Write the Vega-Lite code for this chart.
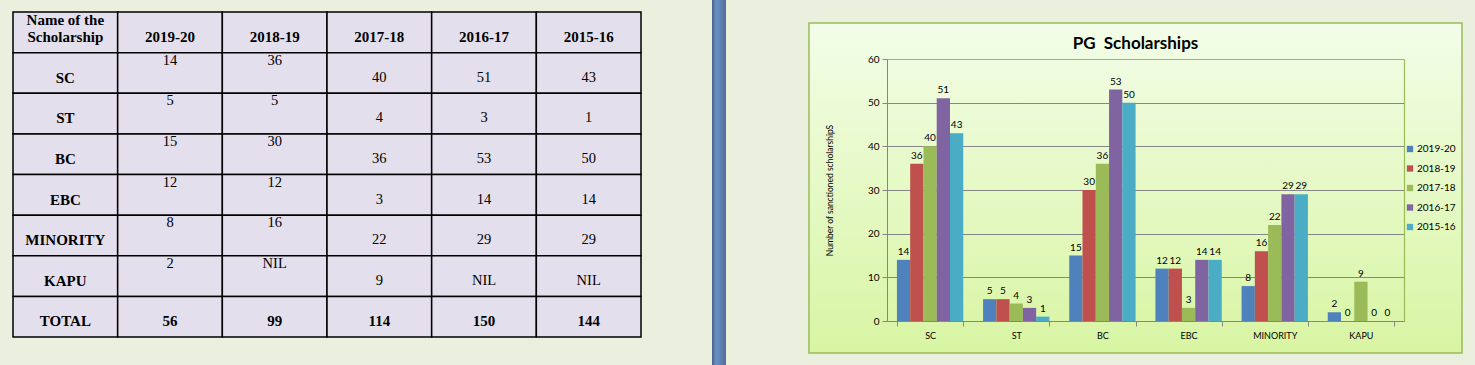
{
  "$schema": "https://vega.github.io/schema/vega-lite/v6.json",
  "background": "#eaf0dd",
  "padding": {"left": 0, "top": 0, "right": 14, "bottom": 0},
  "config": {"view": {"stroke": null}},
  "spacing": 82,
  "hconcat": [
    {
      "spacing": 0,
      "hconcat": [
        {
          "width": 712,
          "height": 365,
          "data": {"values": [
            {"row": "header", "col": "name", "text": "Name of the\nScholarship"},
            {"row": "header", "col": "2019-20", "text": "\n2019-20"},
            {"row": "header", "col": "2018-19", "text": "\n2018-19"},
            {"row": "header", "col": "2017-18", "text": "\n2017-18"},
            {"row": "header", "col": "2016-17", "text": "\n2016-17"},
            {"row": "header", "col": "2015-16", "text": "\n2015-16"},
            {"row": "SC", "col": "name", "text": "\nSC"},
            {"row": "SC", "col": "2019-20", "text": "14"},
            {"row": "SC", "col": "2018-19", "text": "36"},
            {"row": "SC", "col": "2017-18", "text": "\n40"},
            {"row": "SC", "col": "2016-17", "text": "\n51"},
            {"row": "SC", "col": "2015-16", "text": "\n43"},
            {"row": "ST", "col": "name", "text": "\nST"},
            {"row": "ST", "col": "2019-20", "text": "5"},
            {"row": "ST", "col": "2018-19", "text": "5"},
            {"row": "ST", "col": "2017-18", "text": "\n4"},
            {"row": "ST", "col": "2016-17", "text": "\n3"},
            {"row": "ST", "col": "2015-16", "text": "\n1"},
            {"row": "BC", "col": "name", "text": "\nBC"},
            {"row": "BC", "col": "2019-20", "text": "15"},
            {"row": "BC", "col": "2018-19", "text": "30"},
            {"row": "BC", "col": "2017-18", "text": "\n36"},
            {"row": "BC", "col": "2016-17", "text": "\n53"},
            {"row": "BC", "col": "2015-16", "text": "\n50"},
            {"row": "EBC", "col": "name", "text": "\nEBC"},
            {"row": "EBC", "col": "2019-20", "text": "12"},
            {"row": "EBC", "col": "2018-19", "text": "12"},
            {"row": "EBC", "col": "2017-18", "text": "\n3"},
            {"row": "EBC", "col": "2016-17", "text": "\n14"},
            {"row": "EBC", "col": "2015-16", "text": "\n14"},
            {"row": "MINORITY", "col": "name", "text": "\nMINORITY"},
            {"row": "MINORITY", "col": "2019-20", "text": "8"},
            {"row": "MINORITY", "col": "2018-19", "text": "16"},
            {"row": "MINORITY", "col": "2017-18", "text": "\n22"},
            {"row": "MINORITY", "col": "2016-17", "text": "\n29"},
            {"row": "MINORITY", "col": "2015-16", "text": "\n29"},
            {"row": "KAPU", "col": "name", "text": "\nKAPU"},
            {"row": "KAPU", "col": "2019-20", "text": "2"},
            {"row": "KAPU", "col": "2018-19", "text": "NIL"},
            {"row": "KAPU", "col": "2017-18", "text": "\n9"},
            {"row": "KAPU", "col": "2016-17", "text": "\nNIL"},
            {"row": "KAPU", "col": "2015-16", "text": "\nNIL"},
            {"row": "TOTAL", "col": "name", "text": "\nTOTAL"},
            {"row": "TOTAL", "col": "2019-20", "text": "\n56"},
            {"row": "TOTAL", "col": "2018-19", "text": "\n99"},
            {"row": "TOTAL", "col": "2017-18", "text": "\n114"},
            {"row": "TOTAL", "col": "2016-17", "text": "\n150"},
            {"row": "TOTAL", "col": "2015-16", "text": "\n144"}
          ]},
          "encoding": {
            "x": {"field": "col", "type": "nominal", "axis": null,
                  "scale": {"domain": ["name", "2019-20", "2018-19", "2017-18", "2016-17", "2015-16"], "range": [13, 641], "paddingInner": 0, "paddingOuter": 0}},
            "y": {"field": "row", "type": "nominal", "axis": null,
                  "scale": {"domain": ["header", "SC", "ST", "BC", "EBC", "MINORITY", "KAPU", "TOTAL"], "range": [12, 337], "paddingInner": 0, "paddingOuter": 0}}
          },
          "layer": [
            {"mark": {"type": "rect", "fill": "#e4dfec", "stroke": "#000000", "strokeWidth": 1.5}},
            {
              "transform": [{"filter": "datum.row === 'header' || datum.col === 'name' || datum.row === 'TOTAL'"}],
              "mark": {"type": "text", "font": "Liberation Serif", "fontSize": 15, "fontWeight": "bold", "baseline": "top", "lineBreak": "\n", "lineHeight": 17, "dy": 1, "fill": "#000000"},
              "encoding": {
                "y": {"field": "row", "type": "nominal", "bandPosition": 0, "axis": null,
                      "scale": {"domain": ["header", "SC", "ST", "BC", "EBC", "MINORITY", "KAPU", "TOTAL"], "range": [12, 337], "paddingInner": 0, "paddingOuter": 0}},
                "text": {"field": "text", "type": "nominal"}
              }
            },
            {
              "transform": [{"filter": "!(datum.row === 'header' || datum.col === 'name' || datum.row === 'TOTAL')"}],
              "mark": {"type": "text", "font": "Liberation Serif", "fontSize": 14.5, "baseline": "top", "lineBreak": "\n", "lineHeight": 17, "dy": 1, "fill": "#000000"},
              "encoding": {
                "y": {"field": "row", "type": "nominal", "bandPosition": 0, "axis": null,
                      "scale": {"domain": ["header", "SC", "ST", "BC", "EBC", "MINORITY", "KAPU", "TOTAL"], "range": [12, 337], "paddingInner": 0, "paddingOuter": 0}},
                "text": {"field": "text", "type": "nominal"}
              }
            }
          ]
        },
        {
          "width": 14,
          "height": 365,
          "view": {"fill": {"gradient": "linear", "x1": 0, "y1": 0, "x2": 1, "y2": 0,
                   "stops": [{"offset": 0, "color": "#46628c"}, {"offset": 0.3, "color": "#6d91c3"}, {"offset": 1, "color": "#4e6e9e"}]}, "stroke": null},
          "data": {"values": []},
          "mark": {"type": "point"},
          "encoding": {}
        }
      ]
    },
    {
      "spacing": 0,
      "vconcat": [
        {
          "width": 1,
          "height": 22,
          "data": {"values": []},
          "mark": {"type": "point"},
          "encoding": {}
        },
        {
          "width": 653,
          "height": 330,
          "view": {"fill": {"gradient": "linear", "x1": 0, "y1": 0, "x2": 0, "y2": 1,
                   "stops": [{"offset": 0, "color": "#f3fde8"}, {"offset": 1, "color": "#d8f5a3"}]},
                   "stroke": "#9bbb59", "strokeWidth": 1.5},
          "title": {"text": "PG\u00a0 Scholarships", "frame": "group", "anchor": "middle", "offset": -43, "baseline": "alphabetic",
                    "font": "Lato", "fontSize": 17, "fontWeight": "bold", "color": "#000000"},
          "data": {"values": [
            {"cat": "SC", "year": "2019-20", "value": 14},
            {"cat": "SC", "year": "2018-19", "value": 36},
            {"cat": "SC", "year": "2017-18", "value": 40},
            {"cat": "SC", "year": "2016-17", "value": 51},
            {"cat": "SC", "year": "2015-16", "value": 43},
            {"cat": "ST", "year": "2019-20", "value": 5},
            {"cat": "ST", "year": "2018-19", "value": 5},
            {"cat": "ST", "year": "2017-18", "value": 4},
            {"cat": "ST", "year": "2016-17", "value": 3},
            {"cat": "ST", "year": "2015-16", "value": 1},
            {"cat": "BC", "year": "2019-20", "value": 15},
            {"cat": "BC", "year": "2018-19", "value": 30},
            {"cat": "BC", "year": "2017-18", "value": 36},
            {"cat": "BC", "year": "2016-17", "value": 53},
            {"cat": "BC", "year": "2015-16", "value": 50},
            {"cat": "EBC", "year": "2019-20", "value": 12},
            {"cat": "EBC", "year": "2018-19", "value": 12},
            {"cat": "EBC", "year": "2017-18", "value": 3},
            {"cat": "EBC", "year": "2016-17", "value": 14},
            {"cat": "EBC", "year": "2015-16", "value": 14},
            {"cat": "MINORITY", "year": "2019-20", "value": 8},
            {"cat": "MINORITY", "year": "2018-19", "value": 16},
            {"cat": "MINORITY", "year": "2017-18", "value": 22},
            {"cat": "MINORITY", "year": "2016-17", "value": 29},
            {"cat": "MINORITY", "year": "2015-16", "value": 29},
            {"cat": "KAPU", "year": "2019-20", "value": 2},
            {"cat": "KAPU", "year": "2018-19", "value": 0},
            {"cat": "KAPU", "year": "2017-18", "value": 9},
            {"cat": "KAPU", "year": "2016-17", "value": 0},
            {"cat": "KAPU", "year": "2015-16", "value": 0}
          ]},
          "encoding": {
            "x": {"field": "cat", "type": "nominal", "sort": ["SC", "ST", "BC", "EBC", "MINORITY", "KAPU"],
                  "scale": {"range": [78, 595], "paddingInner": 0.23, "paddingOuter": 0.115},
                  "axis": {"orient": "bottom", "offset": -32, "title": null, "labelAngle": 0, "labelFont": "Lato", "labelFontSize": 9, "labelColor": "#000000",
                           "domainColor": "#868686", "tickColor": "#868686", "tickSize": 5, "tickBand": "extent", "labelPadding": 5, "grid": false}},
            "xOffset": {"field": "year", "type": "nominal", "sort": ["2019-20", "2018-19", "2017-18", "2016-17", "2015-16"],
                        "scale": {"paddingInner": 0, "paddingOuter": 0}}
          },
          "layer": [
            {
              "mark": {"type": "bar"},
              "encoding": {
                "y": {"field": "value", "type": "quantitative",
                      "scale": {"domain": [0, 60], "range": [298, 36], "nice": false},
                      "axis": {"orient": "left", "offset": -78, "values": [0, 10, 20, 30, 40, 50, 60], "grid": true,
                               "gridColor": {"condition": {"test": "datum.value === 60", "value": "#9bbb59"}, "value": "#868686"},
                               "domainColor": "#868686", "tickColor": "#868686", "tickSize": 5, "labelPadding": 3,
                               "labelFont": "Lato", "labelFontSize": 10, "labelColor": "#000000",
                               "title": "Number of sanctioned scholarshipS", "titleFont": "Lato", "titleFontSize": 8.5, "titleFontWeight": "normal",
                               "titleColor": "#000000", "titleX": -53}},
                "color": {"field": "year", "type": "nominal", "sort": ["2019-20", "2018-19", "2017-18", "2016-17", "2015-16"],
                          "scale": {"domain": ["2019-20", "2018-19", "2017-18", "2016-17", "2015-16"], "range": ["#4f81bd", "#c0504d", "#9bbb59", "#8064a2", "#4bacc6"]},
                          "legend": {"orient": "none", "legendX": 1405, "legendY": 144, "title": null, "symbolType": "square", "symbolSize": 40,
                                     "symbolStrokeWidth": 0, "labelFont": "Lato", "labelFontSize": 10, "labelColor": "#000000", "labelOffset": 2,
                                     "rowPadding": 9.5, "padding": 0}}
              }
            },
            {
              "mark": {"type": "text", "baseline": "bottom", "dy": -3, "font": "Lato", "fontSize": 10, "fill": "#000000"},
              "encoding": {
                "y": {"field": "value", "type": "quantitative",
                      "scale": {"domain": [0, 60], "range": [298, 36], "nice": false},
                      "axis": {"orient": "right", "offset": -58, "labels": false, "ticks": false, "grid": false, "title": null,
                               "domainColor": "#9bbb59", "domainWidth": 1.2}},
                "text": {"field": "value", "type": "quantitative"}
              }
            }
          ],
          "resolve": {"axis": {"y": "independent"}}
        }
      ]
    }
  ]
}
